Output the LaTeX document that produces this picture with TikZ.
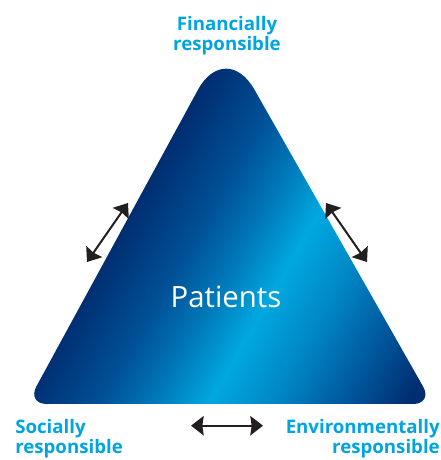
\documentclass[tikz,border=0pt]{standalone}
\usepackage{fontspec}
\setmainfont{Open Sans}
\usetikzlibrary{arrows.meta}
\definecolor{B1}{RGB}{0,46,113}
\definecolor{B2}{RGB}{0,80,150}
\definecolor{B3}{RGB}{0,122,186}
\definecolor{B4}{RGB}{0,168,224}
\definecolor{B5}{RGB}{0,136,198}
\definecolor{B6}{RGB}{0,84,154}
\definecolor{C4}{RGB}{0,164,224}
\definecolor{K1}{RGB}{35,31,32}
\pgfdeclarehorizontalshading{patshade}{100bp}{color(0bp)=(B1); color(28.75bp)=(B1); color(37.1bp)=(B2); color(43.3bp)=(B3); color(49bp)=(B4); color(55.75bp)=(B5); color(64.1bp)=(B6); color(70.4bp)=(B1); color(100bp)=(B1)}
\tikzset{
  side/.style={font=\fontsize{14}{15}\selectfont\bfseries, text=C4, inner sep=0pt},
  twoway/.style={K1, line width=1.5pt, {Stealth[length=9.5pt,width=14.5pt,inset=1pt]}-{Stealth[length=9.5pt,width=14.5pt,inset=1pt]}}
}
\begin{document}
\begin{tikzpicture}[x=0.75pt, y=0.75pt]
      \useasboundingbox (0,0) rectangle (441,460);
      \begin{scope}
        \clip (46.8,56) -- (413,56) .. controls (424,56) and (428.6,63.8) .. (423.1,73.4)
          -- (254.3,370.6) .. controls (238.4,398.4) and (213.2,398.2) .. (197.9,370.1)
          -- (36.4,73.6) .. controls (31.1,63.9) and (35.8,56) .. (46.8,56) -- cycle;
        \begin{scope}[transform canvas={rotate=-30}]
          \shade[shading=patshade] (-40,40) rectangle (360,500);
        \end{scope}
      \end{scope}
      \node[white, font=\fontsize{22}{22}\selectfont, anchor=base] (pat) at (226,152) {Patients};
      \node[side, anchor=north, align=center] (fin) at (227,444) {Financially\\responsible};
      \node[side, anchor=north west, align=left] (soc) at (15,41) {Socially\\responsible};
      \node[side, anchor=north east, align=right] (env) at (440,41) {Environmentally\\responsible};
      \coordinate (fs1) at (87,198); \coordinate (fs2) at (128,257);
      \coordinate (fe1) at (326,257); \coordinate (fe2) at (367,198);
      \coordinate (se1) at (191,34.3); \coordinate (se2) at (263,34.3);
      \draw[twoway] (fs1) -- (fs2);
      \draw[twoway] (fe1) -- (fe2);
      \draw[twoway] (se1) -- (se2);
    \end{tikzpicture}
\end{document}
